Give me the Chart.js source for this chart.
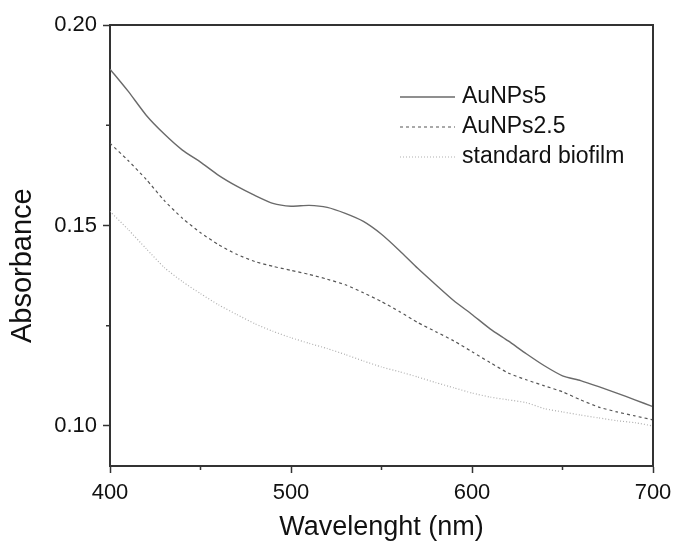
<!DOCTYPE html>
<html>
<head>
<meta charset="utf-8">
<script src="https://cdn.jsdelivr.net/npm/chart.js@4.4.1/dist/chart.umd.min.js"></script>
<style>
    html, body { margin: 0; padding: 0; background: #fff; }
</style>
</head>
<body>
<canvas id="absChart" width="673" height="548"></canvas>
<script>
// wavelength (nm) and absorbance values
var wavelengths = [400, 410, 420, 430, 440, 450, 460, 470, 480, 490,
    500, 510, 520, 530, 540, 550, 560, 570, 580, 590,
    600, 610, 620, 630, 640, 650, 660, 670, 680, 690, 700];
var aunps5 = [0.1890, 0.1835, 0.1775, 0.1728, 0.1688, 0.1658, 0.1625, 0.1598, 0.1575, 0.1555,
    0.1548, 0.1550, 0.1545, 0.1530, 0.1510, 0.1478, 0.1437, 0.1393, 0.1352, 0.1312,
    0.1278, 0.1242, 0.1212, 0.1180, 0.1150, 0.1125, 0.1113, 0.1098, 0.1082, 0.1065, 0.1048];
var aunps25 = [0.1705, 0.1662, 0.1615, 0.1562, 0.1518, 0.1482, 0.1452, 0.1428, 0.1410, 0.1398,
    0.1388, 0.1378, 0.1366, 0.1352, 0.1332, 0.1310, 0.1285, 0.1258, 0.1235, 0.1212,
    0.1185, 0.1158, 0.1132, 0.1115, 0.1100, 0.1085, 0.1065, 0.1047, 0.1035, 0.1025, 0.1015];
var biofilm = [0.1535, 0.1490, 0.1442, 0.1395, 0.1360, 0.1330, 0.1302, 0.1278, 0.1255, 0.1236,
    0.1220, 0.1206, 0.1193, 0.1178, 0.1162, 0.1147, 0.1135, 0.1122, 0.1108, 0.1095,
    0.1082, 0.1072, 0.1065, 0.1058, 0.1043, 0.1035, 0.1027, 0.1020, 0.1013, 0.1008, 0.1000];

var seriesLabels = ['AuNPs5', 'AuNPs2.5', 'standard biofilm'];
var xMajorTicks = [400, 500, 600, 700];
var xMinorTicks = [450, 550, 650];
var yMajorTicks = [0.10, 0.15, 0.20];
var yMinorTicks = [0.125, 0.175];

var axisColor = '#333333';
var fontFamily = '"Liberation Sans", Arial, sans-serif';

function toPoints(ys) {
    return wavelengths.map(function (w, i) { return {x: w, y: ys[i]}; });
}

// top/right frame, short minor ticks and the in-plot legend
var framePlugin = {
    id: 'frame',
    afterDraw: function (chart) {
        var ctx = chart.ctx, a = chart.chartArea;
        var xs = chart.scales.x, ys = chart.scales.y;
        ctx.save();
        ctx.strokeStyle = axisColor;
        ctx.lineWidth = 2;
        ctx.beginPath();
        ctx.moveTo(a.left, a.top);
        ctx.lineTo(a.right, a.top);
        ctx.lineTo(a.right, a.bottom);
        ctx.stroke();

        ctx.lineWidth = 1.5;
        ctx.beginPath();
        xMinorTicks.forEach(function (v) {
            var px = xs.getPixelForValue(v);
            ctx.moveTo(px, a.bottom);
            ctx.lineTo(px, a.bottom + 4);
        });
        yMinorTicks.forEach(function (v) {
            var py = ys.getPixelForValue(v);
            ctx.moveTo(a.left, py);
            ctx.lineTo(a.left - 4, py);
        });
        ctx.stroke();

        // legend
        var lx = 400, ly = a.top + 72, step = 30;
        ctx.font = '23px ' + fontFamily;
        ctx.textBaseline = 'middle';
        ctx.fillStyle = '#111';
        chart.data.datasets.forEach(function (ds, i) {
            var y = ly + i * step;
            ctx.beginPath();
            ctx.strokeStyle = ds.borderColor;
            ctx.lineWidth = ds.borderWidth;
            ctx.setLineDash(ds.borderDash || []);
            ctx.moveTo(lx, y);
            ctx.lineTo(lx + 55, y);
            ctx.stroke();
            ctx.setLineDash([]);
            ctx.fillText(ds.label, lx + 62, y);
        });
        ctx.restore();
    }
};

new Chart(document.getElementById('absChart').getContext('2d'), {
    type: 'line',
    data: {
        datasets: [{
            label: seriesLabels[0],
            data: toPoints(aunps5),
            borderColor: '#6a6a6a',
            borderWidth: 1.4,
            pointRadius: 0,
            tension: 0.2
        }, {
            label: seriesLabels[1],
            data: toPoints(aunps25),
            borderColor: '#555555',
            borderWidth: 1.2,
            borderDash: [3, 3],
            pointRadius: 0,
            tension: 0.2
        }, {
            label: seriesLabels[2],
            data: toPoints(biofilm),
            borderColor: '#b0b0b0',
            borderWidth: 1.2,
            borderDash: [1, 2],
            pointRadius: 0,
            tension: 0.2
        }]
    },
    options: {
        responsive: false,
        animation: false,
        layout: {padding: {left: 0, right: 20, top: 25, bottom: 0}},
        plugins: {legend: {display: false}, tooltip: {enabled: false}},
        scales: {
            x: {
                type: 'linear',
                min: 400,
                max: 700,
                afterBuildTicks: function (scale) {
                    scale.ticks = xMajorTicks.map(function (v) { return {value: v}; });
                },
                afterFit: function (scale) {
                    scale.height = 82;
                    scale.paddingRight = 0;
                },
                ticks: {
                    color: '#111',
                    font: {family: fontFamily, size: 22},
                    padding: 7,
                    maxRotation: 0,
                    callback: function (v) { return String(v); }
                },
                grid: {drawOnChartArea: false, tickLength: 7, tickWidth: 1.5, tickColor: axisColor},
                border: {color: axisColor, width: 2},
                title: {
                    display: true,
                    text: 'Wavelenght (nm)',
                    color: '#111',
                    font: {family: fontFamily, size: 27},
                    padding: {top: 4, bottom: 4}
                }
            },
            y: {
                min: 0.09,
                max: 0.20,
                afterBuildTicks: function (scale) {
                    scale.ticks = yMajorTicks.map(function (v) { return {value: v}; });
                },
                afterFit: function (scale) { scale.width = 110; },
                ticks: {
                    color: '#111',
                    font: {family: fontFamily, size: 22},
                    padding: 6,
                    callback: function (v) { return v.toFixed(2); }
                },
                grid: {drawOnChartArea: false, tickLength: 7, tickWidth: 1.5, tickColor: axisColor},
                border: {color: axisColor, width: 2},
                title: {
                    display: true,
                    text: 'Absorbance     ',
                    color: '#111',
                    font: {family: fontFamily, size: 29},
                    padding: {top: 6, bottom: 4}
                }
            }
        }
    },
    plugins: [framePlugin]
});
</script>
</body>
</html>
